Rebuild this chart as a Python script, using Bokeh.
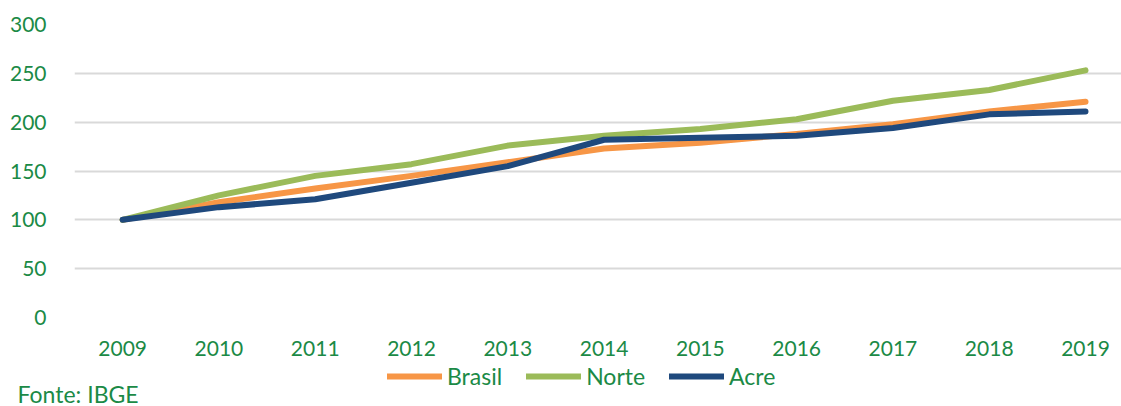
from bokeh.plotting import figure
from bokeh.layouts import column
from bokeh.models import Range1d, Legend, LegendItem, Label, FixedTicker
from bokeh.embed import file_html
from bokeh.resources import INLINE

years = [2009, 2010, 2011, 2012, 2013, 2014, 2015, 2016, 2017, 2018, 2019]
brasil = [100, 118, 132, 145, 159, 173, 179, 188, 198, 211, 221]
norte = [100, 125, 145, 157, 176, 186, 193, 203, 222, 233, 253]
acre = [100, 113, 121, 138, 155, 182, 184, 186, 194, 208, 211]
y_ticks = [0, 50, 100, 150, 200, 250, 300]
series_names = ["Brasil", "Norte", "Acre"]
series_colors = ["#f79646", "#9bbb59", "#1f497d"]
source_text = "Fonte: IBGE"

TXT = "#1b8a46"
FONT = "Lato"

p = figure(width=1121, height=362, output_backend="svg", toolbar_location=None,
           x_range=Range1d(2008.5, 2019.374), y_range=Range1d(0, 300),
           min_border_left=74, min_border_right=0, min_border_top=24, min_border_bottom=45)
p.frame_align = False
p.outline_line_color = None
p.xgrid.grid_line_color = None
p.ygrid.grid_line_color = "#d9d9d9"
p.ygrid.grid_line_width = 2

p.yaxis.ticker = FixedTicker(ticks=y_ticks)
p.xaxis.ticker = FixedTicker(ticks=years)
for ax in (p.xaxis[0], p.yaxis[0]):
    ax.axis_line_color = None
    ax.major_tick_line_color = None
    ax.minor_tick_line_color = None
    ax.major_label_text_color = TXT
    ax.major_label_text_font = FONT
    ax.major_label_text_font_size = "21px"
p.yaxis.major_label_standoff = 22
p.xaxis.major_label_standoff = 17

for name, vals, col in zip(series_names, [brasil, norte, acre], series_colors):
    p.line(years, vals, line_color=col, line_width=6, line_cap="round", line_join="round")

# footer: legend and source note (x/y in this strip's own pixel space)
f = figure(width=1121, height=44, output_backend="svg", toolbar_location=None,
           x_range=Range1d(0, 1121), y_range=Range1d(44, 0),
           min_border_left=0, min_border_right=0, min_border_top=0, min_border_bottom=0)
f.frame_align = False
f.axis.visible = False
f.grid.visible = False
f.outline_line_color = None

items = []
for name, col in zip(series_names, series_colors):
    # legend-only swatch renderers placed outside the visible strip
    r = f.line([-50, -40], [-50, -50], line_color=col, line_width=6, line_cap="round")
    items.append(LegendItem(label=name, renderers=[r]))

legend = Legend(items=items, orientation="horizontal", location=(387, 16),
                label_text_font=FONT, label_text_font_size="23px", label_text_color=TXT,
                glyph_width=55, glyph_height=24, label_height=24, label_standoff=5,
                spacing=24, padding=0, margin=0, border_line_color=None,
                background_fill_alpha=0)
f.add_layout(legend, "center")

f.add_layout(Label(x=17, y=31, text=source_text, text_font=FONT,
                   text_font_size="23px", text_color=TXT, text_baseline="middle"))

layout = column(p, f, spacing=0)
open("out.html", "w").write(file_html(layout, INLINE))
